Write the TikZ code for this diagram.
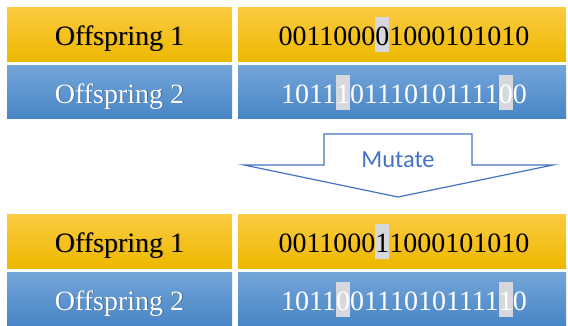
\documentclass[tikz,border=0pt]{standalone}
\usepackage{fontspec}
\setmainfont{Liberation Serif}
\newfontfamily\labelfont{Carlito}

\definecolor{goldtop}{RGB}{252,203,66}
\definecolor{goldbot}{RGB}{237,184,0}
\definecolor{bluetop}{RGB}{116,165,217}
\definecolor{bluebot}{RGB}{72,133,198}
\definecolor{hlgray}{RGB}{214,216,222}
\definecolor{arrowblue}{RGB}{68,114,196}

% a mutated bit: grey band behind the digit
\newcommand\flipbit[1]{{\setlength\fboxsep{0pt}\colorbox{hlgray}{\rule[-7pt]{0pt}{35pt}#1}}}
% the same width, without the band (for the drop shadow)
\newcommand\plainbit[1]{#1}

\tikzset{
  x=1pt, y=-1pt,
  bar/.style={rectangle, inner sep=0pt, draw=none, anchor=north west},
  goldbar/.style={bar, top color=goldtop, bottom color=goldbot},
  bluebar/.style={bar, top color=bluetop, bottom color=bluebot},
  namecell/.style={minimum width=225pt},
  bitcell/.style={minimum width=328pt},
  rowA/.style={minimum height=54pt},
  rowB/.style={minimum height=53pt},
  txt/.style={anchor=base, inner sep=0pt, font=\fontsize{28}{30}\selectfont},
  darktxt/.style={txt, text=black},
  lighttxt/.style={txt, text=white},
  shadowtxt/.style={txt, text=black, opacity=0.28, xshift=0.9pt, yshift=-0.9pt},
  mutatebox/.style={draw=arrowblue, line width=1.2pt, fill=white, line join=miter},
}

% text with a soft drop shadow: #1 name, #2 style, #3 position, #4 text
\newcommand\shadowed[4]{%
  \node[shadowtxt] (#1s) at #3 {#4};
  \node[#2] (#1) at #3 {#4};
}

\begin{document}
\begin{tikzpicture}
\useasboundingbox (0,0) rectangle (568,325);

% before mutation
\node[goldbar, namecell, rowA] (p1) at (7,7) {};
\node[goldbar, bitcell, rowA] (b1) at (238,7) {};
\node[bluebar, namecell, rowB] (p2) at (7,65) {};
\node[bluebar, bitcell, rowB] (b2) at (238,65) {};

\shadowed{p1t}{darktxt}{(119.5,45)}{Offspring 1}
\node[darktxt] (b1t) at (404,45) {0011000\flipbit{0}1000101010};
\shadowed{p2t}{lighttxt}{(119.5,103)}{Offspring 2}
\node[lighttxt] (b2t) at (404,103) {1011\flipbit{1}01110101111\flipbit{0}0};

% block arrow
\draw[mutatebox] (324,134) -- (472,134) -- (472,165) -- (553,165)
  -- (398,197) -- (244,165) -- (324,165) -- cycle;
\node[anchor=base, inner sep=0pt, text=arrowblue, font=\labelfont\fontsize{24.5}{26}\selectfont]
  (mut) at (398,167) {Mutate};

% after mutation
\node[goldbar, namecell, rowA] (q1) at (7,214) {};
\node[goldbar, bitcell, rowA] (c1) at (238,214) {};
\node[bluebar, namecell, rowB] (q2) at (7,272) {};
\node[bluebar, bitcell, rowB] (c2) at (238,272) {};

\shadowed{q1t}{darktxt}{(119.5,252)}{Offspring 1}
\node[darktxt] (c1t) at (404,252) {0011000\flipbit{1}1000101010};
\shadowed{q2t}{lighttxt}{(119.5,310)}{Offspring 2}
\node[lighttxt] (c2t) at (404,310) {1011\flipbit{0}01110101111\flipbit{1}0};
\end{tikzpicture}
\end{document}
